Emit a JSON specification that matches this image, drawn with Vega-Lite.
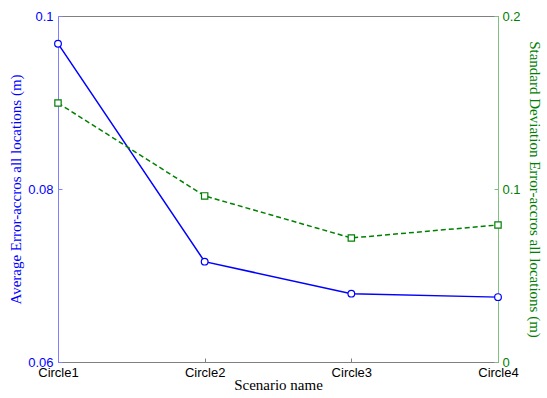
{
  "$schema": "https://vega.github.io/schema/vega-lite/v6.json",
  "width": 440,
  "height": 346,
  "autosize": "none",
  "padding": {"left": 58, "top": 16, "right": 49, "bottom": 36},
  "background": "white",
  "config": {
    "view": {"stroke": "#808080", "strokeWidth": 1},
    "axis": {
      "grid": false,
      "labelFont": "Liberation Sans",
      "labelFontSize": 13,
      "titleFont": "Liberation Serif",
      "titleFontSize": 15,
      "titleFontWeight": "normal",
      "tickSize": -4,
      "domainWidth": 1
    }
  },
  "data": {
    "values": [
      {"scenario": "Circle1", "avg": 0.0968, "std": 0.1497},
      {"scenario": "Circle2", "avg": 0.0716, "std": 0.0960},
      {"scenario": "Circle3", "avg": 0.0679, "std": 0.0717},
      {"scenario": "Circle4", "avg": 0.0675, "std": 0.0792}
    ]
  },
  "encoding": {
    "x": {
      "field": "scenario",
      "type": "ordinal",
      "scale": {"type": "point", "padding": 0},
      "axis": {
        "title": "Scenario name",
        "labelAngle": 0,
        "labelColor": "black",
        "titleColor": "black",
        "domainColor": "#808080",
        "tickColor": "#808080",
        "labelPadding": 8,
        "titlePadding": -2,
        "labelBaseline": "top"
      }
    }
  },
  "layer": [
    {
      "mark": {
        "type": "line",
        "color": "#0000ff",
        "strokeWidth": 1.5,
        "point": {"shape": "circle", "filled": false, "fill": "white", "stroke": "#0000ff", "strokeWidth": 1.2, "size": 45, "opacity": 1}
      },
      "encoding": {
        "y": {
          "field": "avg",
          "type": "quantitative",
          "scale": {"domain": [0.06, 0.1], "nice": false, "zero": false},
          "axis": {
            "orient": "left",
            "values": [0.06, 0.08, 0.1],
            "format": "~g",
            "title": "Average Error-accros all locations (m)",
            "labelColor": "#0000ff",
            "titleColor": "#0000ff",
            "domainColor": "#8080ff",
            "tickColor": "#8080ff",
            "labelPadding": 9,
            "titlePadding": 4
          }
        }
      }
    },
    {
      "mark": {
        "type": "line",
        "color": "#008000",
        "strokeWidth": 1.5,
        "strokeDash": [5, 3],
        "point": {"shape": "square", "filled": false, "fill": "white", "stroke": "#008000", "strokeWidth": 1.2, "size": 40, "opacity": 1}
      },
      "encoding": {
        "y": {
          "field": "std",
          "type": "quantitative",
          "scale": {"domain": [0, 0.2], "nice": false},
          "axis": {
            "orient": "right",
            "values": [0, 0.1, 0.2],
            "format": "~g",
            "title": "Standard Deviation Error-accros all locations (m)",
            "labelColor": "#008000",
            "titleColor": "#008000",
            "domainColor": "#80c080",
            "tickColor": "#80c080",
            "labelPadding": 8,
            "titlePadding": 6
          }
        }
      }
    }
  ],
  "resolve": {"scale": {"y": "independent"}}
}
